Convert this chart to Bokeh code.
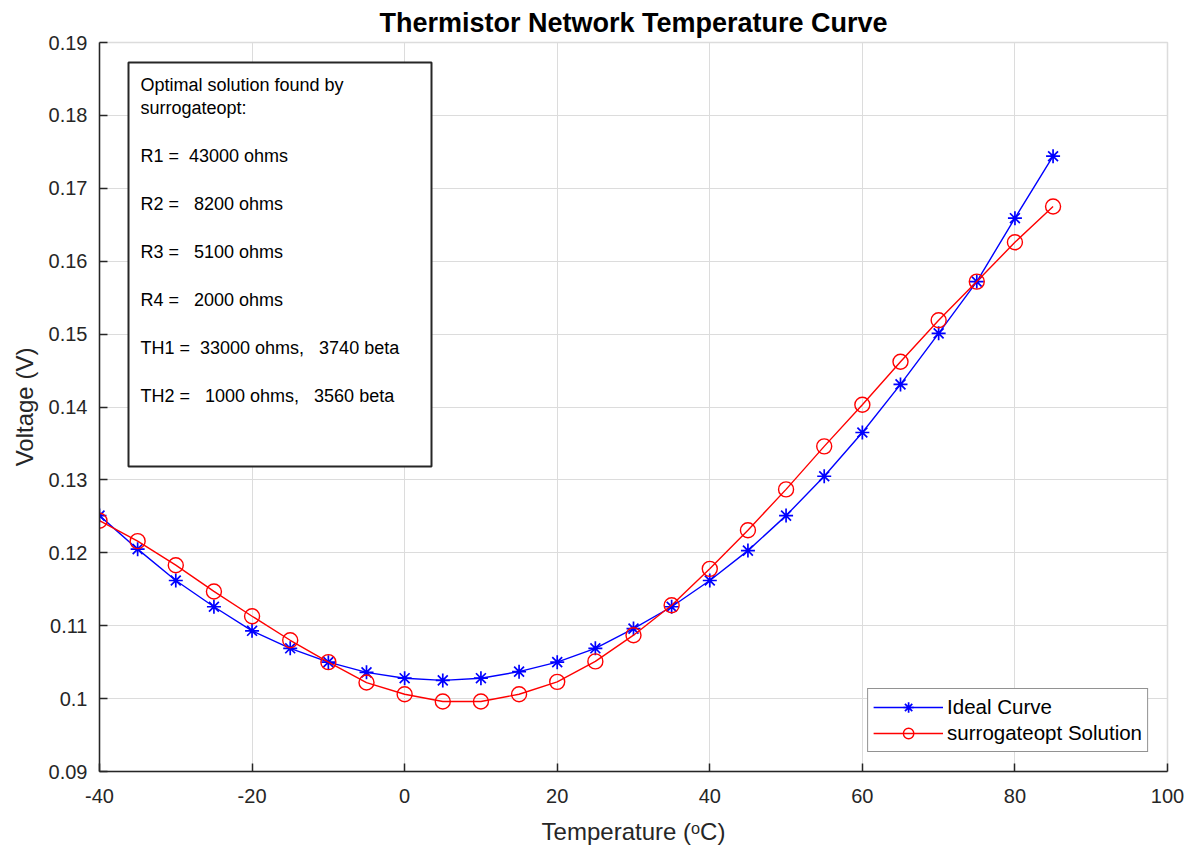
from bokeh.plotting import figure
from bokeh.models import (Range1d, FixedTicker, Label, BoxAnnotation,
                          Legend, LegendItem)
from bokeh.embed import file_html
from bokeh.resources import INLINE

# ---------------- data ----------------
temperature = [-40, -35, -30, -25, -20, -15, -10, -5, 0, 5, 10, 15, 20, 25,
               30, 35, 40, 45, 50, 55, 60, 65, 70, 75, 80, 85]
ideal_voltage = [0.1251, 0.1205, 0.1162, 0.1126, 0.1093, 0.1069, 0.1050, 0.1036,
                 0.1028, 0.1025, 0.1028, 0.1037, 0.1050, 0.1069, 0.1096, 0.1126,
                 0.1162, 0.1203, 0.1251, 0.1305, 0.1365, 0.1431, 0.1501, 0.1572,
                 0.1659, 0.1744]
surrogate_voltage = [0.1244, 0.1216, 0.1183, 0.1147, 0.1113, 0.1080, 0.1050, 0.1022,
                     0.1006, 0.0996, 0.0996, 0.1006, 0.1023, 0.1051, 0.1087, 0.1128,
                     0.1178, 0.1231, 0.1287, 0.1346, 0.1403, 0.1462, 0.1519, 0.1572,
                     0.1626, 0.1675]
x_ticks = [-40, -20, 0, 20, 40, 60, 80, 100]
y_ticks = [0.09, 0.10, 0.11, 0.12, 0.13, 0.14, 0.15, 0.16, 0.17, 0.18, 0.19]
series_names = ["Ideal Curve", "surrogateopt Solution"]
NB = "\u00a0"
annotation_lines = [
    "Optimal solution found by",
    "surrogateopt:",
    "R1 = " + NB + "43000 ohms",
    "R2 = " + NB * 2 + "8200 ohms",
    "R3 = " + NB * 2 + "5100 ohms",
    "R4 = " + NB * 2 + "2000 ohms",
    "TH1 = " + NB + "33000 ohms, " + NB * 2 + "3740 beta",
    "TH2 = " + NB * 2 + "1000 ohms, " + NB * 2 + "3560 beta",
]

# ---------------- layout helpers ----------------
X0, X1 = -40, 100
Y0, Y1 = 0.09, 0.19
FRAME_L, FRAME_R, FRAME_T, FRAME_B = 99, 1167, 42, 771   # page pixels


def px_x(px):
    return X0 + (px - FRAME_L) * (X1 - X0) / (FRAME_R - FRAME_L)


def px_y(py):
    return Y1 - (py - FRAME_T) * (Y1 - Y0) / (FRAME_B - FRAME_T)


FONT = "Liberation Sans"
AX = "#262626"
GRID = "#dcdcdc"
W, H = 1184, 848

p = figure(width=W, height=H, output_backend="svg", toolbar_location=None,
           x_range=Range1d(X0, X1), y_range=Range1d(Y0, Y1),
           min_border_left=FRAME_L, min_border_right=W - FRAME_R,
           min_border_top=FRAME_T, min_border_bottom=H - FRAME_B,
           background_fill_color="white", border_fill_color="white")

p.title.text = "Thermistor Network Temperature Curve"
p.title.align = "center"
p.title.text_font = FONT
p.title.text_font_size = "27px"
p.title.text_font_style = "bold"
p.title.text_color = "black"

p.outline_line_color = GRID
p.outline_line_width = 1.5

for ax in (p.xaxis[0], p.yaxis[0]):
    ax.axis_line_color = AX
    ax.axis_line_width = 1.5
    ax.major_tick_line_color = AX
    ax.major_tick_line_width = 1.5
    ax.major_tick_in = 8
    ax.major_tick_out = 0
    ax.minor_tick_line_color = None
    ax.major_label_text_font = FONT
    ax.major_label_text_font_size = "20px"
    ax.major_label_text_color = AX
    ax.axis_label_text_font = FONT
    ax.axis_label_text_font_size = "24px"
    ax.axis_label_text_font_style = "normal"
    ax.axis_label_text_color = AX

p.xaxis.ticker = FixedTicker(ticks=x_ticks)
p.yaxis.ticker = FixedTicker(ticks=y_ticks)
p.xaxis.major_label_overrides = {t: f"{t:g}" for t in x_ticks}
p.yaxis.major_label_overrides = {t: f"{t:g}" for t in y_ticks}
p.xaxis.axis_label = "Temperature (\u1d52C)"
p.yaxis.axis_label = "Voltage (V)"
p.xaxis.major_label_standoff = 17
p.yaxis.major_label_standoff = 12
p.xaxis.axis_label_standoff = 12
p.yaxis.axis_label_standoff = 8

p.xgrid.ticker = FixedTicker(ticks=x_ticks)
p.ygrid.ticker = FixedTicker(ticks=y_ticks)
p.grid.grid_line_color = GRID
p.grid.grid_line_width = 1

# ---------------- series ----------------
l1 = p.line(temperature, ideal_voltage, line_color="blue", line_width=1.4)
s1 = p.scatter(temperature, ideal_voltage, marker="asterisk", size=14,
               line_color="blue", line_width=1.7)
l2 = p.line(temperature, surrogate_voltage, line_color="red", line_width=1.4)
s2 = p.scatter(temperature, surrogate_voltage, marker="circle", size=15,
               line_color="red", fill_color=None, line_width=1.4)

legend = Legend(items=[LegendItem(label=series_names[0], renderers=[l1, s1]),
                       LegendItem(label=series_names[1], renderers=[l2, s2])],
                location="bottom_right")
legend.margin = 19
legend.padding = 5
legend.spacing = 0
legend.glyph_width = 70
legend.glyph_height = 26
legend.label_height = 26
legend.label_standoff = 4
legend.label_text_font = FONT
legend.label_text_font_size = "20.5px"
legend.label_text_color = "black"
legend.border_line_color = AX
legend.border_line_width = 1
legend.background_fill_color = "white"
legend.background_fill_alpha = 1
p.add_layout(legend)

# ---------------- annotation box ----------------
box = BoxAnnotation(left=px_x(128), right=px_x(431), top=px_y(62), bottom=px_y(466),
                    fill_color="white", fill_alpha=1, line_color=AX, line_width=2,
                    line_alpha=1)
p.add_layout(box)

line_py = [84, 107, 155, 203, 251, 299, 347, 395]
for txt, py in zip(annotation_lines, line_py):
    p.add_layout(Label(x=px_x(140), y=px_y(py), text=txt, text_font=FONT,
                       text_font_size="18px", text_color="black",
                       text_baseline="middle", text_align="left"))

open("out.html", "w").write(file_html(p, INLINE))
